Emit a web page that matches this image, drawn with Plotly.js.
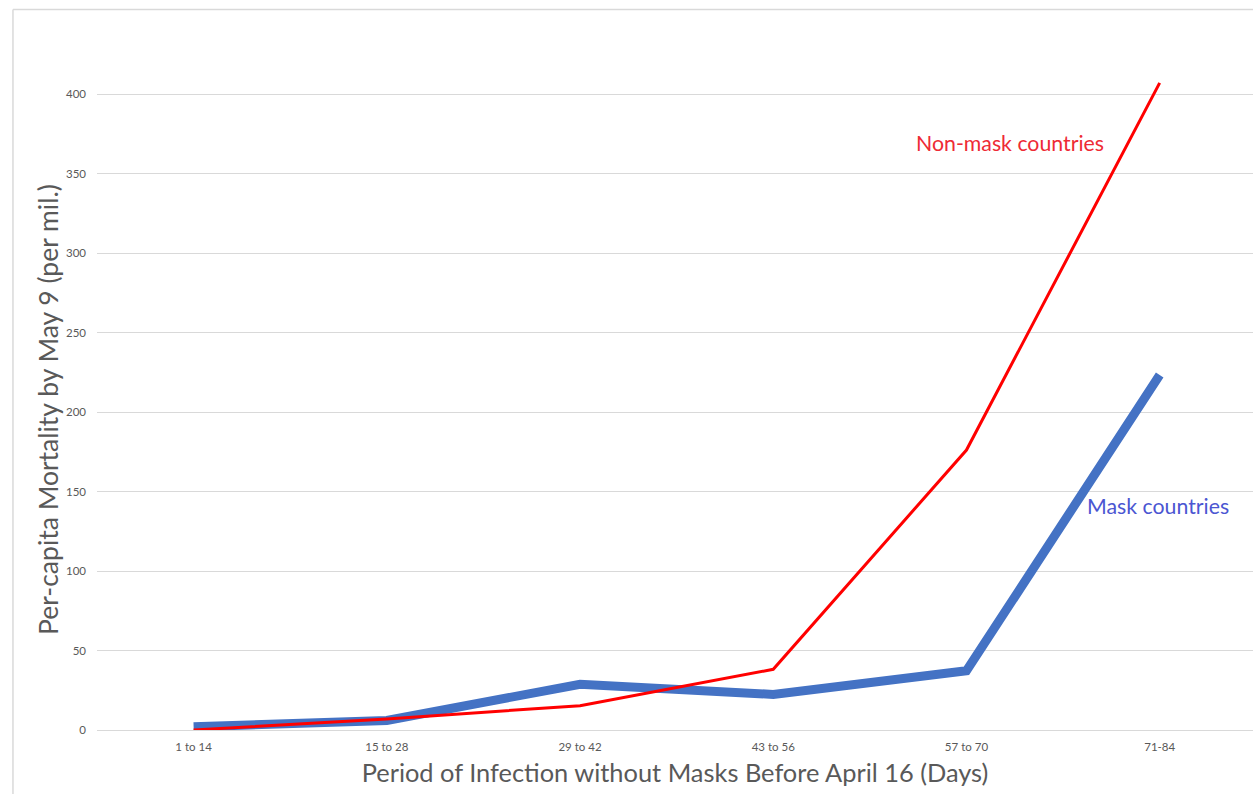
<!DOCTYPE html>
<html>
<head>
<meta charset="utf-8">
<script src="https://cdn.plot.ly/plotly-3.0.1.min.js"></script>
<style>html,body{margin:0;padding:0;background:#fff;}#chart{width:1253px;height:794px;}</style>
</head>
<body>
<div id="chart"></div>
<script>
const categories = ["1 to 14", "15 to 28", "29 to 42", "43 to 56", "57 to 70", "71-84"];
const maskValues = [2, 6, 28.8, 22.4, 37.3, 223.4];
const nonMaskValues = [0, 7, 15.3, 38.2, 176.2, 407.3];
const yTicks = [0, 50, 100, 150, 200, 250, 300, 350, 400];
const seriesNames = ["Mask countries", "Non-mask countries"];
const xTitle = "Period of Infection without Masks Before April 16 (Days)";
const yTitle = "Per-capita Mortality by May 9 (per mil.)";

const grey = "#595959";
const traces = [
  {
    x: categories, y: maskValues, type: "scatter", mode: "lines",
    name: seriesNames[0],
    line: {color: "#4472C4", width: 9}
  },
  {
    x: categories, y: nonMaskValues, type: "scatter", mode: "lines",
    name: seriesNames[1],
    line: {color: "#FF0000", width: 3}
  }
];

const layout = {
  width: 1253, height: 794,
  margin: {l: 97, r: 0, t: 15, b: 64},
  paper_bgcolor: "#ffffff", plot_bgcolor: "#ffffff",
  showlegend: false,
  font: {family: "Lato, 'Open Sans', sans-serif", color: grey},
  xaxis: {
    type: "category",
    range: [-0.5, 5.483],
    showgrid: false, zeroline: false, showline: false,
    ticks: "",
    tickfont: {size: 11.5, color: grey},
    ticklabelstandoff: 8,
    title: {text: xTitle, font: {size: 25.4, color: grey}, standoff: 12}
  },
  yaxis: {
    range: [0, 450],
    tickvals: yTicks,
    showgrid: true, gridcolor: "#D9D9D9", gridwidth: 1,
    zeroline: true, zerolinecolor: "#D9D9D9", zerolinewidth: 1,
    showline: false, ticks: "",
    tickfont: {size: 11.5, color: grey},
    ticklabelstandoff: 10
  },
  shapes: [
    {type: "line", xref: "paper", yref: "paper", x0: -0.0727, x1: -0.0727, y0: -0.1, y1: 1.0077, line: {color: "#D9D9D9", width: 1.5}},
    {type: "line", xref: "paper", yref: "paper", x0: -0.0727, x1: 1.01, y0: 1.0077, y1: 1.0077, line: {color: "#D9D9D9", width: 1.5}}
  ],
  annotations: [
    {text: yTitle, xref: "paper", yref: "paper", x: -0.0424, y: 0.449, xanchor: "center", yanchor: "middle", textangle: -90, showarrow: false, font: {size: 26.5, color: grey}},
    {text: seriesNames[1], xref: "x", yref: "y", x: 3.726, y: 369.4, xanchor: "left", yanchor: "middle", showarrow: false, font: {size: 21.3, color: "#EE2A35"}},
    {text: seriesNames[0], xref: "x", yref: "y", x: 4.611, y: 141, xanchor: "left", yanchor: "middle", showarrow: false, font: {size: 21.3, color: "#4B56D2"}}
  ]
};

Plotly.newPlot("chart", traces, layout, {displayModeBar: false, staticPlot: true});
</script>
</body>
</html>
